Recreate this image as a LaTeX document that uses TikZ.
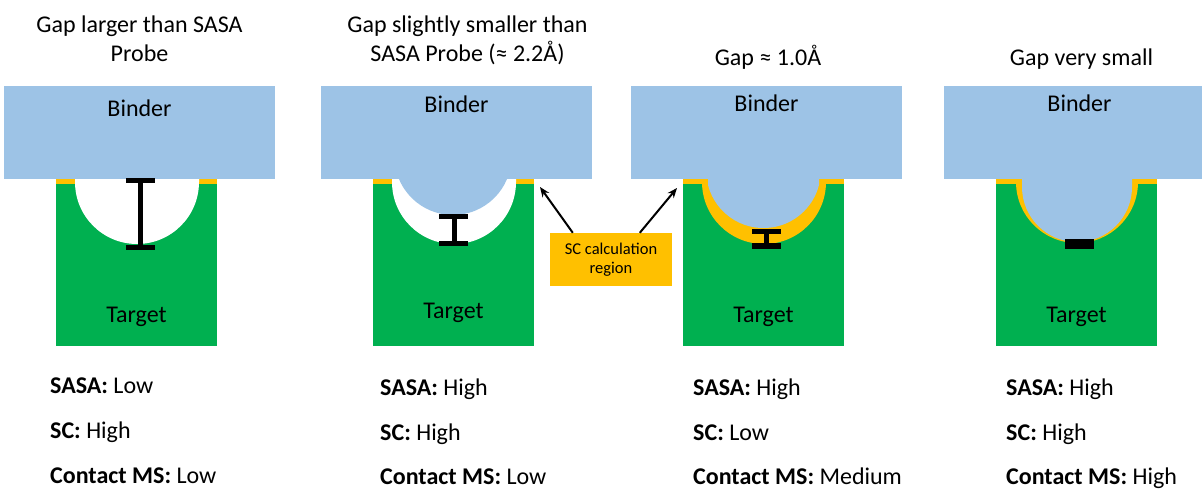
\documentclass[tikz,border=0pt]{standalone}
\usepackage{fontspec}
\setmainfont{Carlito}
\usetikzlibrary{arrows.meta}

\definecolor{binderblue}{HTML}{9DC3E6}
\definecolor{targetgreen}{HTML}{00B050}
\definecolor{scgold}{HTML}{FFC000}

\tikzset{
  big/.style={font=\fontsize{24}{29.3}\selectfont, inner sep=0pt},
  title/.style={big, align=center, anchor=base},
  label/.style={big, anchor=base},
  stat/.style={big, anchor=base west},
  binder/.style={fill=binderblue},
  target/.style={fill=targetgreen},
  scband/.style={fill=scgold},
  gapbar/.style={line width=5pt},
  scbox/.style={fill=scgold, minimum width=122pt, minimum height=53pt,
    align=center, inner sep=0pt, font=\fontsize{16.5}{19.5}\selectfont},
}

\begin{document}
\begin{tikzpicture}[x=1pt, y=-1pt, >={Stealth[length=10pt, width=8pt]}]
  \useasboundingbox (0,0) rectangle (1202,489);

%%%%%%%%%%%%%%%%%%%%%%%%%%%%%%%%%%%%%%%%%%
  % Gap wider than the probe
  \begin{scope}
    % titles sit on the baseline of their last line
    \node[title] (title1) at (139.5,62) {Gap larger than SASA\\Probe};

    % Target with open pocket
    \fill[scband] (56,179) rectangle (217,184);
    \fill[target] (56,184) rectangle (217,346);
    \fill[white] (75,179) -- (75,182) arc[start angle=180, end angle=0, radius=62] -- (199,179) -- cycle;
    \node[label] (target1) at (136.5,322) {Target};

    % Binder
    \fill[binder] (4,86) rectangle (275,179);
    \node[label] (binder1) at (139.5,117) {Binder};

    % Gap
    \draw[gapbar] (140,180.5) -- (140,247.5);
    \draw[gapbar] (126,180.5) -- (155,180.5);
    \draw[gapbar] (126,247.5) -- (155,247.5);

    \node[stat] (sasa1) at (50,393) {\textbf{SASA:} Low};
    \node[stat] (sc1) at (50,438) {\textbf{SC:} High};
    \node[stat] (ms1) at (50,483) {\textbf{Contact MS:} Low};
  \end{scope}

%%%%%%%%%%%%%%%%%%%%%%%%%%%%%%%%%%%%%%%%%%
  % Gap a little under the probe size
  \begin{scope}[xshift=317pt]
    \node[title] (title2) at (150.5,62) {Gap slightly smaller than\\SASA Probe (≈ 2.2Å)};

    \fill[scband] (56,179) rectangle (217,184);
    \fill[target] (56,184) rectangle (217,346);
    \fill[white] (75,179) -- (75,182) arc[start angle=180, end angle=0, radius=62] -- (199,179) -- cycle;
    \node[label] (target2) at (136.5,318) {Target};

    % Binder with its bump
    \fill[binder] (4,86) rectangle (275,179);
    \fill[binder] (82,178) -- (82,179) arc[start angle=157.4, end angle=22.6, radius=58.5] -- (190,178) -- cycle;
    \node[label] (binder2) at (139.5,113) {Binder};

    \draw[gapbar] (137,217) -- (137,243.5);
    \draw[gapbar] (122,217) -- (151,217);
    \draw[gapbar] (122,243.5) -- (151,243.5);

    \node[stat] (sasa2) at (63,395) {\textbf{SASA:} High};
    \node[stat] (sc2) at (63,440) {\textbf{SC:} High};
    \node[stat] (ms2) at (63,484) {\textbf{Contact MS:} Low};
  \end{scope}

%%%%%%%%%%%%%%%%%%%%%%%%%%%%%%%%%%%%%%%%%%
  % Gap about 1 A
  \begin{scope}[xshift=627pt]
    \node[title] (title3) at (141,66) {Gap ≈ 1.0Å};

    \fill[scband] (56,179) rectangle (217,184);
    \fill[target] (56,184) rectangle (217,346);
    \fill[scband] (75,179) -- (75,182) arc[start angle=180, end angle=0, radius=62] -- (199,179) -- cycle;
    \node[label] (target3) at (136.5,322) {Target};

    \fill[binder] (4,86) rectangle (275,179);
    \fill[binder] (81,178) -- (81,185) arc[start angle=165.6, end angle=14.4, radius=57.3] -- (192,178) -- cycle;
    \node[label] (binder3) at (139.5,112) {Binder};

    \draw[gapbar] (139.7,231.5) -- (139.7,246);
    \draw[gapbar] (125,231.5) -- (154,231.5);
    \draw[gapbar] (125,246) -- (154,246);

    \node[stat] (sasa3) at (66,395) {\textbf{SASA:} High};
    \node[stat] (sc3) at (66,440) {\textbf{SC:} Low};
    \node[stat] (ms3) at (66,484) {\textbf{Contact MS:} Medium};
  \end{scope}

%%%%%%%%%%%%%%%%%%%%%%%%%%%%%%%%%%%%%%%%%%
  % Almost no gap
  \begin{scope}[xshift=940pt]
    \node[title] (title4) at (141.5,66) {Gap very small};

    \fill[scband] (56,179) rectangle (217,184);
    \fill[target] (56,184) rectangle (217,346);
    \fill[scband] (76,179) -- (76,182) arc[start angle=180, end angle=0, radius=61] -- (198,179) -- cycle;
    \node[label] (target4) at (136.5,322) {Target};

    \fill[binder] (4,86) rectangle (262,179);
    \fill[binder] (82,178) -- (82,187) arc[start angle=180, end angle=0, radius=55] -- (192,178) -- cycle;
    \node[label] (binder4) at (139.5,112) {Binder};

    \fill (125,239) rectangle (154,249);

    \node[stat] (sasa4) at (66,395) {\textbf{SASA:} High};
    \node[stat] (sc4) at (66,440) {\textbf{SC:} High};
    \node[stat] (ms4) at (66,484) {\textbf{Contact MS:} High};
  \end{scope}

%%%%%%%%%%%%%%%%%%%%%%%%%%%%%%%%%%%%%%%%%%
  % SC region callout
  \node[scbox] (sc) at (611,259.5) {SC calculation\\region};
  \coordinate (tipL) at (540,187);
  \coordinate (tipR) at (677,188);
  \draw[->, line width=2pt] ([xshift=23pt]sc.north west) -- (tipL);
  \draw[->, line width=2pt] ([xshift=90pt]sc.north west) -- (tipR);

\end{tikzpicture}
\end{document}
